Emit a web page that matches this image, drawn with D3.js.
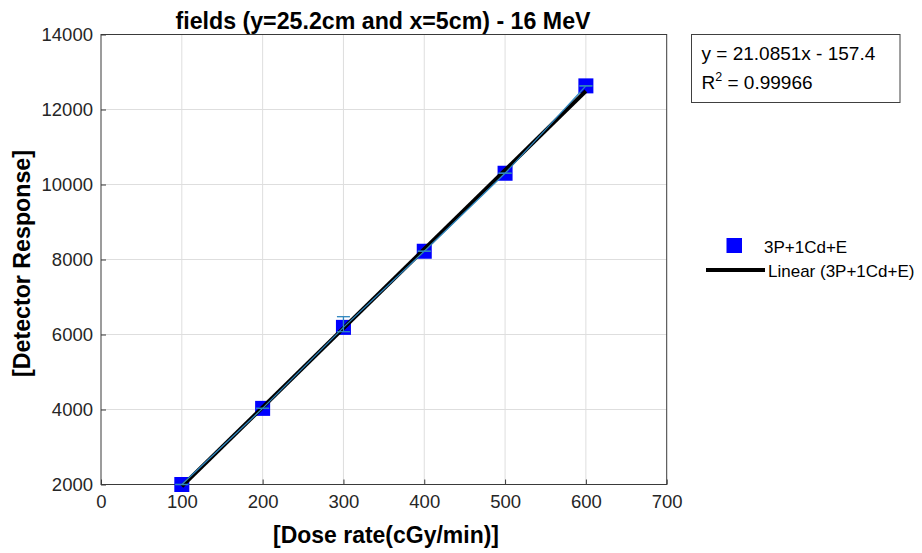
<!DOCTYPE html>
<html>
<head>
<meta charset="utf-8">
<script src="https://cdn.jsdelivr.net/npm/d3@7"></script>
<style>
  html, body { margin: 0; padding: 0; background: #fff; }
  svg { display: block; font-family: "Liberation Sans", Arial, sans-serif; }
</style>
</head>
<body>
<svg id="chart" width="922" height="553"></svg>
<script>
// ---- data ----
const doseRates = [100, 200, 300, 400, 500, 600];
const responses = [2000, 4030, 6190, 8220, 10300, 12630];
const errHigh = [0, 0, 285, 0, 0, 0];
const errLow = [0, 0, 115, 0, 0, 0];
const xTicks = [0, 100, 200, 300, 400, 500, 600, 700];
const yTicks = [2000, 4000, 6000, 8000, 10000, 12000, 14000];
const fitSlope = 21.0851;
const fitIntercept = -157.4;
const equationText = "y = 21.0851x - 157.4";
const r2Text = "0.99966";
const seriesName = "3P+1Cd+E";
const trendName = "Linear (3P+1Cd+E)";
const titleText = "fields (y=25.2cm and x=5cm) - 16 MeV";
const xLabel = "[Dose rate(cGy/min)]";
const yLabel = "[Detector Response]";

const svg = d3.select("#chart");
const L = 101, R = 666.7, T = 34.5, B = 484.5;
const x = d3.scaleLinear().domain([0, 700]).range([L, R]);
const y = d3.scaleLinear().domain([2000, 14000]).range([B, T]);

const gridColor = "#dedede", axisColor = "#3a3a3a", textColor = "#262626";
const teal = "#2f86be";

// grid
const grid = svg.append("g");
grid.selectAll("line.gx").data(xTicks.slice(1, -1)).join("line")
  .attr("x1", d => x(d)).attr("x2", d => x(d)).attr("y1", T).attr("y2", B)
  .attr("stroke", gridColor).attr("stroke-width", 1);
grid.selectAll("line.gy").data(yTicks.slice(1, -1)).join("line")
  .attr("x1", L).attr("x2", R).attr("y1", d => y(d)).attr("y2", d => y(d))
  .attr("stroke", gridColor).attr("stroke-width", 1);

// axes
const xAxis = d3.axisBottom(x).tickValues(xTicks).tickFormat(d3.format("d"))
  .tickSize(-5).tickPadding(10).tickSizeOuter(0);
const yAxis = d3.axisLeft(y).tickValues(yTicks).tickFormat(d3.format("d"))
  .tickSize(-5).tickPadding(8).tickSizeOuter(0);
const gx = svg.append("g").attr("transform", `translate(0,${B})`).call(xAxis);
const gy = svg.append("g").attr("transform", `translate(${L},0)`).call(yAxis);
[gx, gy].forEach(g => {
  g.select(".domain").remove();
  g.selectAll(".tick line").attr("stroke", axisColor);
  g.selectAll(".tick text").attr("fill", textColor)
    .style("font-family", "'Liberation Sans', Arial, sans-serif").style("font-size", "18.5px");
});
gx.selectAll(".tick text").attr("dy", "0.71em");

// frame
svg.append("rect").attr("x", L).attr("y", T).attr("width", R - L).attr("height", B - T)
  .attr("fill", "none").attr("stroke", axisColor).attr("stroke-width", 1);

// markers
const pts = doseRates.map((d, i) => ({ x: d, y: responses[i], hi: errHigh[i], lo: errLow[i] }));
svg.append("g").selectAll("rect").data(pts).join("rect")
  .attr("x", d => x(d.x) - 7.5).attr("y", d => y(d.y) - 7.5)
  .attr("width", 15).attr("height", 15).attr("fill", "#0000ff");

// trendline
const x0 = d3.min(doseRates), x1 = d3.max(doseRates);
svg.append("line")
  .attr("x1", x(x0)).attr("y1", y(fitSlope * x0 + fitIntercept))
  .attr("x2", x(x1)).attr("y2", y(fitSlope * x1 + fitIntercept))
  .attr("stroke", "#000").attr("stroke-width", 4).attr("stroke-linecap", "butt");

// series line
svg.append("path").datum(pts)
  .attr("d", d3.line().x(d => x(d.x)).y(d => y(d.y)))
  .attr("fill", "none").attr("stroke", teal).attr("stroke-width", 1.3);

// error bars
const eb = svg.append("g").attr("stroke", teal).attr("stroke-width", 1.3);
pts.forEach(d => {
  const cx = x(d.x);
  eb.append("line").attr("x1", cx).attr("x2", cx).attr("y1", y(d.y - d.lo)).attr("y2", y(d.y + d.hi));
  eb.append("line").attr("x1", cx - 6.5).attr("x2", cx + 6.5).attr("y1", y(d.y + d.hi)).attr("y2", y(d.y + d.hi));
  eb.append("line").attr("x1", cx - 6.5).attr("x2", cx + 6.5).attr("y1", y(d.y - d.lo)).attr("y2", y(d.y - d.lo));
});

// title
svg.append("text").attr("x", 383).attr("y", 29).attr("text-anchor", "middle")
  .attr("font-weight", "bold").attr("font-size", 24).attr("fill", "#000")
  .attr("textLength", 415).attr("lengthAdjust", "spacingAndGlyphs").text(titleText);

// axis labels
svg.append("text").attr("x", 386).attr("y", 543).attr("text-anchor", "middle")
  .attr("font-weight", "bold").attr("font-size", 24).attr("fill", "#000")
  .attr("textLength", 226).attr("lengthAdjust", "spacingAndGlyphs").text(xLabel);
svg.append("text").attr("transform", `translate(30,263.5) rotate(-90)`)
  .attr("text-anchor", "middle").attr("font-weight", "bold").attr("font-size", 24)
  .attr("textLength", 227).attr("lengthAdjust", "spacingAndGlyphs")
  .attr("fill", "#000").text(yLabel);

// equation box
svg.append("rect").attr("x", 691.5).attr("y", 34.5).attr("width", 208.5).attr("height", 68)
  .attr("fill", "#fff").attr("stroke", "#404040").attr("stroke-width", 1);
svg.append("text").attr("x", 701.5).attr("y", 59.5).attr("font-size", 19).attr("fill", "#000")
  .text(equationText);
const r2 = svg.append("text").attr("x", 701.5).attr("y", 88.5).attr("font-size", 19).attr("fill", "#000");
r2.append("tspan").text("R");
r2.append("tspan").attr("font-size", 12.5).attr("dy", -8).text("2");
r2.append("tspan").attr("dy", 8).text(" = " + r2Text);

// legend
svg.append("rect").attr("x", 726.5).attr("y", 238).attr("width", 15.5).attr("height", 15).attr("fill", "#0000ff");
svg.append("text").attr("x", 764).attr("y", 253).attr("font-size", 17).attr("fill", "#000").text(seriesName);
svg.append("line").attr("x1", 706).attr("x2", 765).attr("y1", 270).attr("y2", 270)
  .attr("stroke", "#000").attr("stroke-width", 4);
svg.append("text").attr("x", 768).attr("y", 276.5).attr("font-size", 17).attr("fill", "#000").text(trendName);
</script>
</body>
</html>
